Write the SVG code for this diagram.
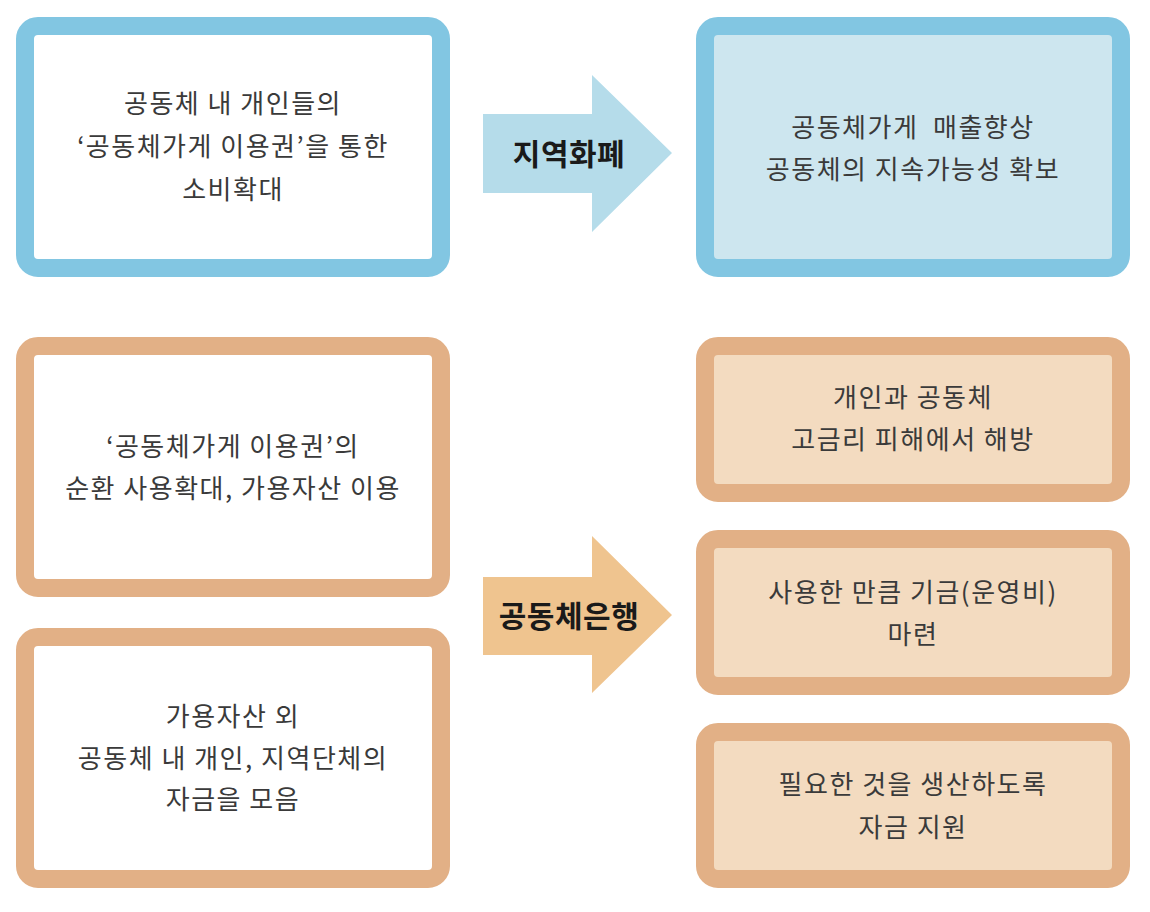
<svg xmlns="http://www.w3.org/2000/svg" width="1150" height="912" viewBox="0 0 1150 912">
<style>
.blue{fill:#ffffff;stroke:#82c6e2;stroke-width:18}
.bluef{fill:#cde6ef;stroke:#82c6e2;stroke-width:18}
.org{fill:#ffffff;stroke:#e2b086;stroke-width:18}
.orgf{fill:#f3dbc0;stroke:#e2b086;stroke-width:18}
.t{font-family:"Noto Sans CJK KR","Noto Sans",sans-serif;font-size:26px;letter-spacing:1.5px;fill:#3a3a3a;text-anchor:middle;white-space:pre}
.b{font-family:"Noto Sans CJK KR","Noto Sans",sans-serif;font-size:30px;letter-spacing:0.5px;font-weight:bold;fill:#1a1a1a;text-anchor:middle}
</style>
<rect width="1150" height="912" fill="#ffffff"/>
<g id="connectors">
<polygon points="483,114 592,114 592,75 672,153 592,232 592,193 483,193" fill="#b5dcea"/>
<text class="b" x="569" y="165">지역화폐</text>
<polygon points="483,577 592,577 592,536 672,615 592,693 592,655 483,655" fill="#efc48f"/>
<text class="b" x="569" y="627">공동체은행</text>
</g>
<g id="box1">
<rect class="blue" x="25" y="26" width="416" height="242" rx="13"/>
<text class="t" x="233" y="113">공동체 내 개인들의</text>
<text class="t" x="233" y="156">‘공동체가게 이용권’을 통한</text>
<text class="t" x="233" y="199">소비확대</text>
</g>
<g id="box2">
<rect class="bluef" x="705" y="26" width="416" height="242" rx="13"/>
<text class="t" x="913" y="137">공동체가게  매출향상</text>
<text class="t" x="913" y="179">공동체의 지속가능성 확보</text>
</g>
<g id="box3">
<rect class="org" x="25" y="346" width="416" height="242" rx="13"/>
<text class="t" x="233" y="456">‘공동체가게 이용권’의</text>
<text class="t" x="233" y="498">순환 사용확대, 가용자산 이용</text>
</g>
<g id="box4">
<rect class="org" x="25" y="637" width="416" height="242" rx="13"/>
<text class="t" x="233" y="726">가용자산 외</text>
<text class="t" x="233" y="768">공동체 내 개인, 지역단체의</text>
<text class="t" x="233" y="809">자금을 모음</text>
</g>
<g id="box5">
<rect class="orgf" x="705" y="346" width="416" height="147" rx="13"/>
<text class="t" x="913" y="407">개인과 공동체</text>
<text class="t" x="913" y="449">고금리 피해에서 해방</text>
</g>
<g id="box6">
<rect class="orgf" x="705" y="539" width="416" height="147" rx="13"/>
<text class="t" x="913" y="602">사용한 만큼 기금(운영비)</text>
<text class="t" x="913" y="644">마련</text>
</g>
<g id="box7">
<rect class="orgf" x="705" y="732" width="416" height="147" rx="13"/>
<text class="t" x="913" y="794">필요한 것을 생산하도록</text>
<text class="t" x="913" y="837">자금 지원</text>
</g>
</svg>
